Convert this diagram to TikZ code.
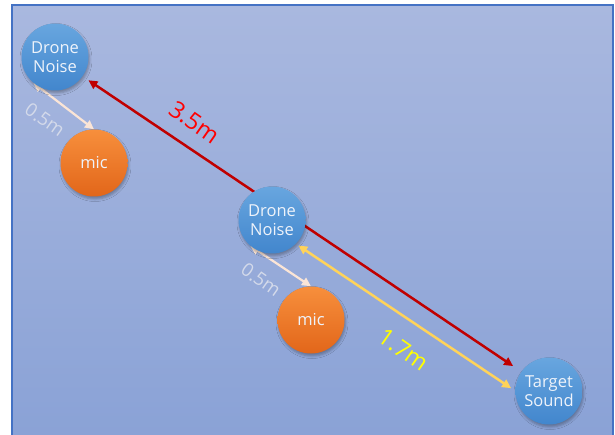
\documentclass[tikz,border=0pt]{standalone}
\usepackage{fontspec}
\setmainfont{Open Sans}
\usetikzlibrary{arrows.meta,shadows.blur}
\definecolor{bgtop}{HTML}{A9B8DF}
\definecolor{bgbot}{HTML}{8AA2D6}
\definecolor{framec}{HTML}{4472C4}
\definecolor{bluetop}{HTML}{68A6DF}
\definecolor{bluebot}{HTML}{4286CD}
\definecolor{orgtop}{HTML}{F78F3C}
\definecolor{orgbot}{HTML}{E2661A}
\definecolor{redline}{HTML}{C00000}
\definecolor{yellowline}{HTML}{FFD35A}
\definecolor{whiteline}{HTML}{FBE5D6}
\definecolor{halftext}{HTML}{D4DAEA}
\definecolor{labred}{HTML}{FF0000}
\definecolor{labyellow}{HTML}{FFFF00}
\definecolor{nodetext}{HTML}{EEF3FA}
\pgfdeclarelayer{bg}
\pgfsetlayers{bg,main}
\begin{document}
\begin{tikzpicture}[x=1pt,y=-1pt,
  blob/.style={circle, minimum size=67pt, inner sep=0pt, text=nodetext, align=center,
    font=\fontsize{16.5}{19.5}\selectfont,
    blur shadow={shadow xshift=1pt, shadow yshift=-2.5pt, shadow blur radius=2.5pt, shadow opacity=30}},
  drone/.style={blob, top color=bluetop, bottom color=bluebot},
  micro/.style={blob, top color=orgtop, bottom color=orgbot},
  dim/.style={line width=2.5pt, {Triangle[length=9pt,width=8.5pt]}-{Triangle[length=9pt,width=8.5pt]}},
  lab/.style={rotate=-35, inner sep=0pt},
]
\useasboundingbox (0,0) rectangle (615,435);
\node[drone] (dn1) at (55,57) {Drone\\Noise};
\node[micro] (mic1) at (94,163) {mic};
\node[drone] (dn2) at (272,220) {Drone\\Noise};
\node[micro] (mic2) at (311,320) {mic};
\node[drone] (ts) at (549,391) {Target\\Sound};
\node[lab, text=halftext, font=\fontsize{18.5}{18.5}\selectfont] (l1) at (45,120) {0.5m};
\node[lab, text=labred, font=\fontsize{23.5}{23.5}\selectfont] (l2) at (195,122) {3.5m};
\node[lab, text=halftext, font=\fontsize{18.5}{18.5}\selectfont] (l3) at (261,280) {0.5m};
\node[lab, text=labyellow, font=\fontsize{23.5}{23.5}\selectfont] (l4) at (404,350) {1.7m};
\begin{pgfonlayer}{bg}
\fill[white] (0,0) rectangle (615,435);
\shade[top color=bgtop, bottom color=bgbot] (12,5) rectangle (613,436);
\draw[framec, line width=1.2pt] (12,440) -- (12,5) -- (613,5) -- (613,440);
\draw[dim, redline, shorten <=7pt, shorten >=10pt] (dn1.-35) -- (ts.145);
\draw[dim, yellowline, shorten <=3pt, shorten >=5pt] (dn2.-45) -- (ts.180);
\draw[dim, whiteline, line width=2.2pt] (dn1.-130) -- (mic1.90);
\draw[dim, whiteline, line width=2.2pt] (dn2.-130) -- (mic2.90);
\end{pgfonlayer}
\end{tikzpicture}
\end{document}
